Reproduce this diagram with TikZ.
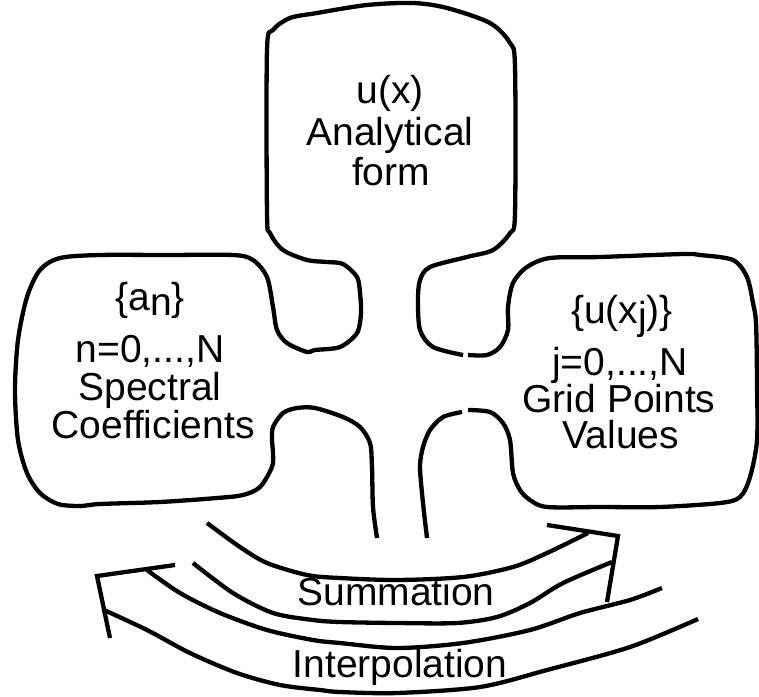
\documentclass[tikz,border=0pt]{standalone}
\usepackage{fontspec}
\setmainfont{Liberation Sans}
\tikzset{
  lbl/.style={font=\fontsize{39}{38}\selectfont, anchor=base, inner sep=0pt},
  outline/.style={line width=4.3pt, line join=round},
  arrowline/.style={line width=4.3pt, line join=miter}
}
\begin{document}
\begin{tikzpicture}[x=1pt,y=-1pt]
\useasboundingbox (0,0) rectangle (759,696);

% left-lower neck, left box, top box, to right neck
\draw[outline] plot[smooth, tension=0.5] coordinates {
 (377,538) (373,507) (372,467) (370,443) (360,427) (343,417) (315,408) (297,408)
 (283,413) (273,427) (272,440) (273,453) (272,467) (260,487) (243,495) (217,498)
 (160,502) (100,504) (80,506) (58,504) (40,493) (27,473) (18,440) (15,390) (18,340)
 (27,297) (40,270) (60,258) (100,255) (167,255) (233,255) (253,260) (267,277)
 (273,307) (277,330) (287,343) (307,352) (315,350) (340,347) (357,333) (361,313)
 (360,293) (357,277) (343,264) (327,262) (307,260) (283,250) (270,233) (267,213)
 (267,50) (273,30) (290,18) (317,13) (367,5) (413,3) (447,8) (490,23) (510,43)
 (515,67) (515,213) (510,233) (493,250) (467,257) (430,267) (420,280) (418,300)
 (420,330) (433,347) (463,355)};

% right box
\draw[outline] plot[smooth, tension=0.5] coordinates {
 (468,355) (487,355) (500,347) (508,330) (508,307) (513,283) (527,267) (550,258)
 (600,257) (683,254) (700,255) (733,260) (747,277) (753,303) (756,323) (757,380)
 (757,440) (750,477) (740,497) (720,503) (660,507) (600,507) (547,507) (530,500)
 (520,490) (513,473) (510,440) (503,423) (490,412) (468,410)};

% right-lower neck
\draw[outline] plot[smooth, tension=0.5] coordinates {
 (462,412) (443,417) (430,430) (423,447) (420,467) (423,503) (427,538)};

% Summation arrow
\draw[outline] plot[smooth, tension=0.5] coordinates {
 (207,523) (240,547) (267,563) (307,575) (340,578) (397,580) (463,577) (513,567)
 (547,553) (588,533)};
\draw[outline] plot[smooth, tension=0.5] coordinates {
 (193,563) (233,593) (273,613) (313,620) (340,622) (397,623) (457,623) (497,617)
 (530,603) (563,583) (612,562)};
\draw[arrowline] (547,525) -- (618,536) -- (607,602);

% Interpolation arrow
\draw[outline] plot[smooth, tension=0.5] coordinates {
 (147,570) (180,593) (220,613) (267,630) (313,640) (340,643) (397,648) (463,643)
 (530,630) (580,613) (630,600) (662,588)};
\draw[outline] plot[smooth, tension=0.5] coordinates {
 (104,610) (147,630) (190,653) (237,673) (280,685) (320,690) (340,692) (397,693)
 (480,687) (547,670) (630,647) (698,619)};
\draw[arrowline] (175,565) -- (97,576) -- (110,638);

% texts
\node[lbl] (t1) at (390,103) {u(x)};
\node[lbl] (t2) at (390,145) {Analytical};
\node[lbl] (t3) at (391,185) {form};

\node[lbl] (l1) at (150,310) {\{a\raisebox{-5pt}{n}\}};
\node[lbl] (l2) at (150,362) {n=0,...,N};
\node[lbl] (l3) at (150,400) {Spectral};
\node[lbl] (l4) at (153,438) {Coefficients};

\node[lbl] (r1) at (622,323) {\{u(x\raisebox{-6pt}{j})\}};
\node[lbl] (r2) at (620,375) {j=0,...,N};
\node[lbl] (r3) at (619,412) {Grid Points};
\node[lbl] (r4) at (621,448) {Values};

\node[lbl] (sum) at (396,605) {Summation};
\node[lbl] (interp) at (400,677) {Interpolation};
\end{tikzpicture}
\end{document}
